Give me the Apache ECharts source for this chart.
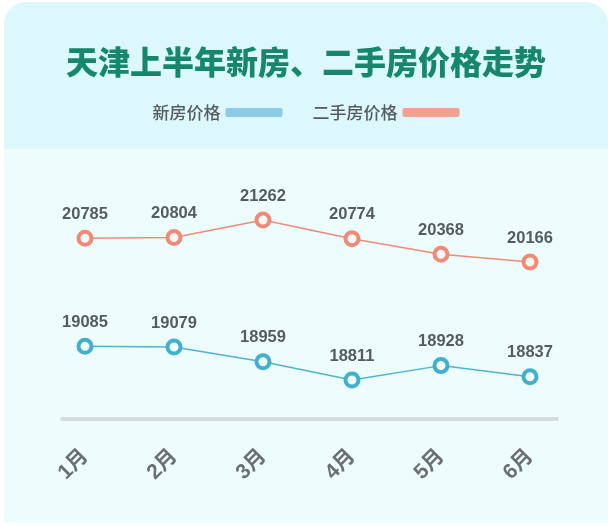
<!DOCTYPE html>
<html><head><meta charset="utf-8">
<script src="https://cdn.jsdelivr.net/npm/echarts@6/dist/echarts.min.js"></script>
<style>html,body{margin:0;padding:0;background:#fff}#c{width:612px;height:526px}</style>
</head><body><div id="c"></div>
<script>
const categories = ['1月','2月','3月','4月','5月','6月'];
const newHousePrice = [19085, 19079, 18959, 18811, 18928, 18837];
const secondHandPrice = [20785, 20804, 21262, 20774, 20368, 20166];
const seriesNames = ['新房价格', '二手房价格'];

const chart = echarts.init(document.getElementById('c'));
const labelStyle = {show:true, position:'top', distance:7, color:'#555b5e', fontSize:16.5, fontWeight:'bold', fontFamily:'Liberation Sans, Arial, sans-serif'};
chart.setOption({
  backgroundColor:'#ffffff',
  graphic:[
    {type:'rect', z:-10, shape:{x:4,y:2,width:604,height:147,r:[22,22,0,0]}, style:{fill:'#dcf8fc'}},
    {type:'rect', z:-10, shape:{x:4,y:149,width:604,height:374,r:0}, style:{fill:'#edfdfd'}}
  ],
  title:{text:'天津上半年新房、二手房价格走势', left:'center', top:41,
    textStyle:{color:'#16876c', fontSize:32, fontWeight:900, fontFamily:'Noto Sans CJK SC'}},
  legend:{top:99, left:'center', itemGap:30, itemWidth:57, itemHeight:9, align:'right',
    textStyle:{color:'#565b5e', fontSize:17, fontWeight:500, fontFamily:'Noto Sans CJK SC'},
    data:[
      {name:seriesNames[0], icon:'roundRect', itemStyle:{color:'#8ccbe5', borderWidth:0}},
      {name:seriesNames[1], icon:'roundRect', itemStyle:{color:'#f0a28f', borderWidth:0}}
    ]},
  grid:[
    {left:85, right:82, top:150, bottom:107},
    {left:62, right:55, top:150, bottom:107}
  ],
  xAxis:[
    {type:'category', gridIndex:0, data:categories, boundaryGap:false,
      axisLine:{show:false}, axisTick:{show:false},
      axisLabel:{rotate:45, margin:34, color:'#6b6f71', fontSize:21, fontWeight:'bold', fontFamily:'Liberation Sans, Noto Sans CJK SC'}},
    {type:'category', gridIndex:1, data:categories, axisLine:{show:true, lineStyle:{color:'#d3dde0', width:4}},
      axisTick:{show:false}, axisLabel:{show:false}}
  ],
  yAxis:[
    {type:'value', gridIndex:0, min:18494, max:20681, show:false, splitLine:{show:false}},
    {type:'value', gridIndex:0, min:16067, max:23090, show:false, splitLine:{show:false}},
    {type:'value', gridIndex:1, show:false, splitLine:{show:false}}
  ],
  series:[
    {name:seriesNames[0], type:'line', xAxisIndex:0, yAxisIndex:0, data:newHousePrice,
      symbol:'circle', symbolSize:13, color:'#3fb0ce',
      lineStyle:{color:'#4fb3cd', width:1.5},
      itemStyle:{color:'#f4fdfe', borderColor:'#3fb0ce', borderWidth:4},
      label:labelStyle},
    {name:seriesNames[1], type:'line', xAxisIndex:0, yAxisIndex:1, data:secondHandPrice,
      symbol:'circle', symbolSize:13, color:'#ef8a77',
      lineStyle:{color:'#ef8a77', width:1.5},
      itemStyle:{color:'#fdf7f5', borderColor:'#ef8a77', borderWidth:4},
      label:labelStyle}
  ]
});
</script></body></html>
